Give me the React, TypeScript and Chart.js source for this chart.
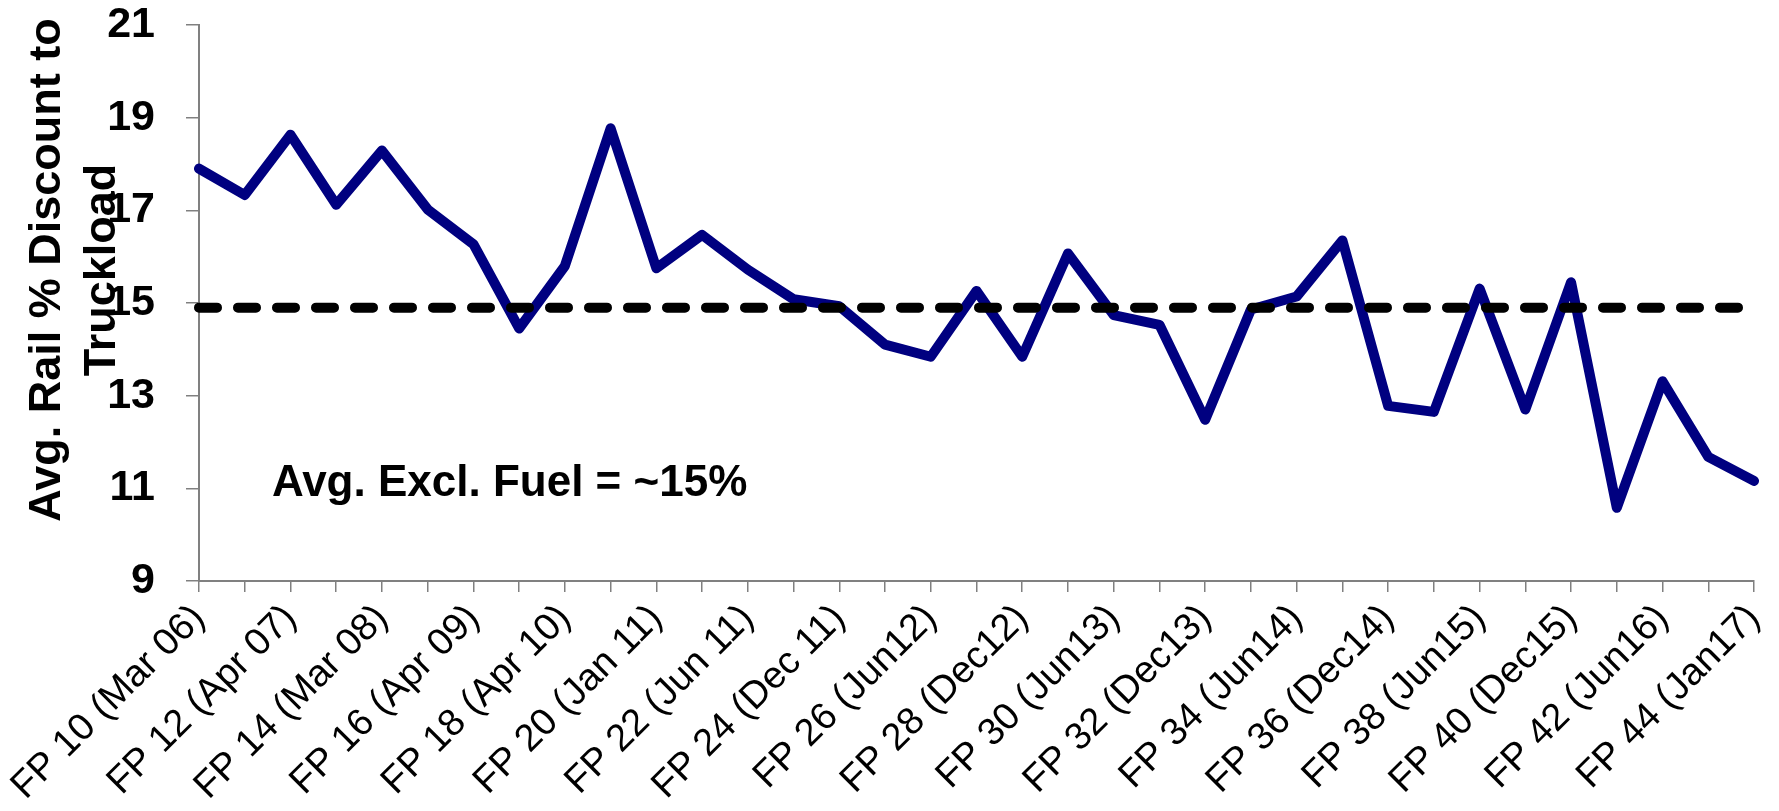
import React, { useEffect, useRef } from "react";
import { Chart, registerables } from "chart.js";

Chart.register(...registerables);

const categories: string[] = [
  "FP 10 (Mar 06)", "FP 11", "FP 12 (Apr 07)", "FP 13", "FP 14 (Mar 08)", "FP 15",
  "FP 16 (Apr 09)", "FP 17", "FP 18 (Apr 10)", "FP 19", "FP 20 (Jan 11)", "FP 21",
  "FP 22 (Jun 11)", "FP 23", "FP 24 (Dec 11)", "FP 25", "FP 26 (Jun12)", "FP 27",
  "FP 28 (Dec12)", "FP 29", "FP 30 (Jun13)", "FP 31", "FP 32 (Dec13)", "FP 33",
  "FP 34 (Jun14)", "FP 35", "FP 36 (Dec14)", "FP 37", "FP 38 (Jun15)", "FP 39",
  "FP 40 (Dec15)", "FP 41", "FP 42 (Jun16)", "FP 43", "FP 44 (Jan17)",
];

const discountValues: number[] = [
  17.9, 17.33, 18.63, 17.12, 18.29, 17.02, 16.27, 14.45, 15.8, 18.77, 15.75, 16.47,
  15.72, 15.08, 14.93, 14.1, 13.84, 15.26, 13.84, 16.07, 14.74, 14.53, 12.48, 14.86,
  15.14, 16.35, 12.78, 12.65, 15.31, 12.7, 15.45, 10.58, 13.31, 11.68, 11.16,
];

const averageValue = 14.9;
const averageLine: number[] = categories.map(() => averageValue);

const yTickValues: number[] = [9, 11, 13, 15, 17, 19, 21];
const yTitleLines: string[] = ["Avg. Rail % Discount to", "Truckload"];
const annotationText = "Avg. Excl. Fuel = ~15%";

const FONT = "'Liberation Sans', Arial, sans-serif";

const textPlugin = {
  id: "customText",
  afterDraw(chart: any) {
    const ctx = chart.ctx;
    const area = chart.chartArea;
    const midY = 270;
    ctx.save();
    ctx.fillStyle = "#000000";
    ctx.font = `bold 45px ${FONT}`;
    ctx.textAlign = "center";
    ctx.textBaseline = "alphabetic";
    const xs = [60, 115];
    yTitleLines.forEach((line, i) => {
      ctx.save();
      ctx.translate(xs[i], midY);
      ctx.rotate(-Math.PI / 2);
      ctx.fillText(line, 0, 0);
      ctx.restore();
    });
    ctx.font = `bold 44px ${FONT}`;
    ctx.textAlign = "left";
    ctx.fillText(annotationText, area.left + 73, 496);
    ctx.restore();
  },
};

export default function App() {
  const canvasRef = useRef<HTMLCanvasElement | null>(null);

  useEffect(() => {
    if (!canvasRef.current) return;
    const chart = new Chart(canvasRef.current, {
      type: "line",
      data: {
        labels: categories,
        datasets: [
          {
            label: "Average",
            data: averageLine,
            borderColor: "#000000",
            borderWidth: 10,
            borderDash: [18, 21],
            borderCapStyle: "round",
            pointRadius: 0,
            fill: false,
            tension: 0,
          },
          {
            label: "Discount",
            data: discountValues,
            borderColor: "#000080",
            borderWidth: 10,
            borderJoinStyle: "round",
            borderCapStyle: "round",
            pointRadius: 0,
            fill: false,
            tension: 0,
          },
        ],
      },
      options: {
        animation: false,
        responsive: true,
        maintainAspectRatio: false,
        layout: { padding: { top: 25, right: 25, bottom: 0, left: 0 } },
        plugins: {
          legend: { display: false },
          tooltip: { enabled: false },
          title: { display: false },
        },
        scales: {
          x: {
            type: "category",
            offset: false,
            grid: {
              drawOnChartArea: false,
              drawTicks: true,
              tickLength: 11,
              color: "#808080",
              lineWidth: 1.5,
            },
            border: { color: "#808080", width: 2 },
            ticks: {
              autoSkip: false,
              minRotation: 45,
              maxRotation: 45,
              padding: 4,
              color: "#000000",
              font: { family: FONT, size: 38 },
              callback: function (this: any, value: any, index: number) {
                return index % 2 === 0 ? categories[index] : "";
              },
            },
            afterFit: (s: any) => {
              s.height = 230;
              s.paddingLeft = 0;
              s.paddingRight = 0;
            },
          },
          y: {
            min: 9,
            max: 21,
            afterBuildTicks: (s: any) => {
              s.ticks = yTickValues.map((v) => ({ value: v }));
            },
            grid: {
              drawOnChartArea: false,
              drawTicks: true,
              tickLength: 13,
              color: "#808080",
              lineWidth: 1.5,
            },
            border: { color: "#808080", width: 2 },
            ticks: {
              padding: 31,
              color: "#000000",
              font: { family: FONT, size: 43, weight: "bold" },
            },
            afterFit: (s: any) => {
              s.width = 199;
              s.paddingTop = 0;
              s.paddingBottom = 0;
            },
          },
        },
      },
      plugins: [textPlugin],
    } as any);
    return () => chart.destroy();
  }, []);

  return (
    <div
      style={{
        position: "fixed",
        left: 0,
        top: 0,
        width: 1779,
        height: 811,
        background: "#ffffff",
      }}
    >
      <canvas ref={canvasRef} />
    </div>
  );
}
